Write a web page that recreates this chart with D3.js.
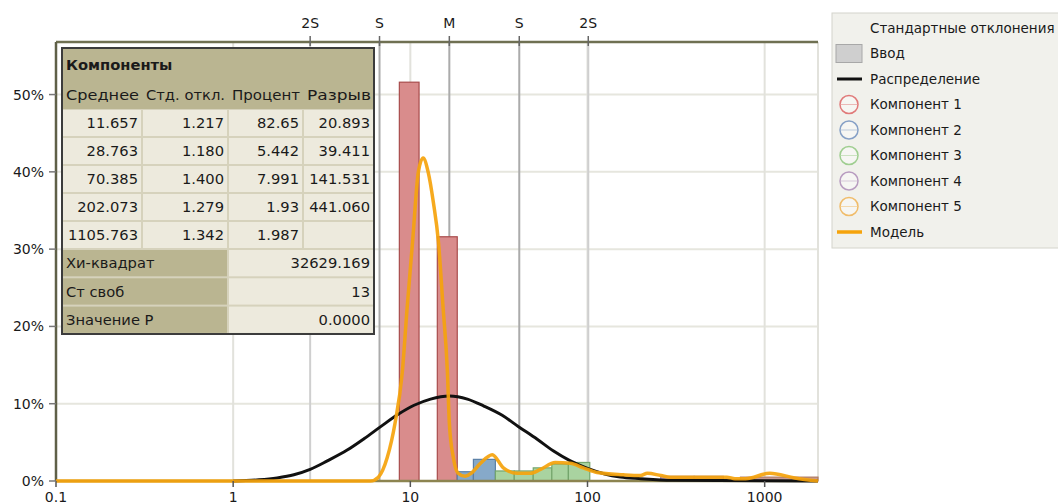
<!DOCTYPE html>
<html>
<head>
<meta charset="utf-8">
<script src="https://cdn.jsdelivr.net/npm/d3@7"></script>
<style>
  body { margin: 0; background: #fff; }
  text { font-family: "DejaVu Sans", sans-serif; fill: #1a1a1a; }
</style>
</head>
<body>
<div id="chart"></div>
<script>
var svgWidth = 1058;
var svgHeight = 504;

// histogram bins (size classes) and their share, by component
var binLo   = [8.67, 14.2, 18.4, 22.7, 30.2, 38.6, 49.4, 62.9, 78, 259, 400, 730];
var binHi   = [11.2, 18.4, 22.7, 30.2, 38.6, 49.4, 62.9, 78, 103, 400, 584, 2000];
var binPct  = [51.6, 31.6, 1.2, 2.8, 1.3, 1.3, 1.7, 2.2, 2.4, 0.6, 0.6, 0.5];
var binComp = [0, 0, 1, 1, 2, 2, 2, 2, 2, 3, 3, 4];

// overall lognormal distribution (black line)
var distX = [1, 1.4, 1.77, 2.2, 2.72, 3.4, 4.4, 5.5, 6.77, 8.5, 10.5, 13, 16.6, 21, 26, 33, 41, 52, 64, 80, 101, 125, 153, 200, 300, 2000];
var distY = [0, 0.15, 0.4, 0.8, 1.5, 2.6, 4.0, 5.5, 7.0, 8.6, 9.8, 10.6, 11.0, 10.6, 9.7, 8.5, 7.0, 5.4, 3.9, 2.6, 1.6, 0.9, 0.5, 0.3, 0.1, 0];

// fitted model (orange line)
var modelX = [0.1, 5.0, 5.95, 6.6, 7.4, 8.2, 9.0, 9.6, 10.3, 11.1, 11.8, 12.6, 13.5, 14.4, 15.3, 16.2, 16.6, 17.5, 18.6, 20.4, 22, 24.9, 29.0, 33.5, 40.1, 47.5, 54.3, 65.7, 80, 94.7, 113, 159, 199, 218, 260, 294, 434, 612, 680, 780, 1070, 1480, 2000];
var modelY = [0, 0, 0, 0.5, 3, 7.5, 14, 22.5, 31, 40, 41.8, 40, 36, 31, 22.5, 14, 7.5, 3, 1, 0.6, 1.0, 2.3, 3.4, 1.7, 1.0, 1.0, 1.5, 2.4, 2.3, 1.7, 1.1, 0.8, 0.7, 1.0, 0.7, 0.5, 0.5, 0.5, 0.3, 0.3, 1.0, 0.4, 0];

// mean / standard deviation markers on top axis
var statLabels = ["2S", "S", "M", "S", "2S"];
var statValues = [2.72, 6.7, 16.6, 41.2, 101];

var xTicks = [0.1, 1, 10, 100, 1000];
var yTicks = [0, 10, 20, 30, 40, 50];

// table of components
var tableHead = ["Среднее", "Стд. откл.", "Процент", "Разрыв"];
var compMean = ["11.657", "28.763", "70.385", "202.073", "1105.763"];
var compSd   = ["1.217", "1.180", "1.400", "1.279", "1.342"];
var compPct  = ["82.65", "5.442", "7.991", "1.93", "1.987"];
var compGap  = ["20.893", "39.411", "141.531", "441.060", ""];
var statNames = ["Хи-квадрат", "Ст своб", "Значение P"];
var statVals  = ["32629.169", "13", "0.0000"];

var legendNames = ["Компонент 1", "Компонент 2", "Компонент 3", "Компонент 4", "Компонент 5"];
var compStroke = ["#a84c4c", "#5a7fa6", "#74a56c", "#9a7aa0", "#b07a60"];
var compFill   = ["#d98c8c", "#86a9c9", "#a9d3a0", "#bfa3c6", "#c79a94"];
var legendRing = ["#e07a7a", "#86a0c6", "#9fce90", "#b89cc0", "#f0bc6a"];

var svg = d3.select("#chart").append("svg")
  .attr("width", svgWidth)
  .attr("height", svgHeight);

var x = d3.scaleLog().domain([0.1, 2000]).range([56, 818]);
var y = d3.scaleLinear().domain([0, 56.8]).range([481, 42]);

var plot = svg.append("g");

// grid lines
plot.selectAll(".hgrid")
  .data(yTicks.slice(1))
  .enter().append("line")
  .attr("x1", x(0.1)).attr("x2", x(2000))
  .attr("y1", d => y(d)).attr("y2", d => y(d))
  .attr("stroke", "#e6e6de").attr("stroke-width", 2);

plot.selectAll(".vgrid")
  .data(xTicks.slice(1).concat([2000]))
  .enter().append("line")
  .attr("x1", d => x(d)).attr("x2", d => x(d))
  .attr("y1", y(56.8)).attr("y2", y(0))
  .attr("stroke", "#e2e2dc").attr("stroke-width", 2);

// mean / sd lines
plot.selectAll(".stat")
  .data(statValues)
  .enter().append("line")
  .attr("x1", d => x(d)).attr("x2", d => x(d))
  .attr("y1", y(56.8)).attr("y2", y(0))
  .attr("stroke", (d, i) => statLabels[i] === "2S" ? "#cfcfcf" : "#ababab")
  .attr("stroke-width", 2);

// histogram bars
plot.selectAll(".bar")
  .data(binLo)
  .enter().append("rect")
  .attr("x", (d, i) => x(binLo[i]))
  .attr("width", (d, i) => x(binHi[i]) - x(binLo[i]))
  .attr("y", (d, i) => y(binPct[i]))
  .attr("height", (d, i) => y(0) - y(binPct[i]))
  .attr("fill", (d, i) => compFill[binComp[i]])
  .attr("stroke", (d, i) => compStroke[binComp[i]])
  .attr("stroke-width", 1.2);

// axes lines
svg.append("line")
  .attr("x1", x(0.1)).attr("x2", x(2000))
  .attr("y1", y(0)).attr("y2", y(0))
  .attr("stroke", "#8c8450").attr("stroke-width", 2.5);
svg.append("line")
  .attr("x1", x(0.1)).attr("x2", x(2000))
  .attr("y1", y(56.8)).attr("y2", y(56.8))
  .attr("stroke", "#6f7052").attr("stroke-width", 2.5);
svg.append("line")
  .attr("x1", x(0.1)).attr("x2", x(0.1))
  .attr("y1", y(56.8)).attr("y2", y(0))
  .attr("stroke", "#5f6048").attr("stroke-width", 2.5);

// distribution line
var line = d3.line()
  .x(d => x(d[0]))
  .y(d => y(d[1]))
  .curve(d3.curveMonotoneX);

svg.append("path")
  .datum(distX.map((d, i) => [d, distY[i]]))
  .attr("d", line)
  .attr("fill", "none")
  .attr("stroke", "#111")
  .attr("stroke-width", 3);

// model line
svg.append("path")
  .datum(modelX.map((d, i) => [d, modelY[i]]))
  .attr("d", line)
  .attr("fill", "none")
  .attr("stroke", "#f5a30c")
  .attr("stroke-opacity", 0.92)
  .attr("stroke-width", 3.5)
  .attr("stroke-linejoin", "round");

// bottom axis
var bottomAxis = svg.append("g");
bottomAxis.selectAll("line")
  .data(xTicks)
  .enter().append("line")
  .attr("x1", d => x(d)).attr("x2", d => x(d))
  .attr("y1", y(0)).attr("y2", y(0) + 6)
  .attr("stroke", "#555").attr("stroke-width", 1.5);
bottomAxis.selectAll("text")
  .data(xTicks)
  .enter().append("text")
  .attr("x", d => x(d))
  .attr("y", 502)
  .attr("text-anchor", "middle")
  .style("font-size", "14px")
  .text(d => d3.format("")(d));

// left axis
var leftAxis = svg.append("g");
leftAxis.selectAll("line")
  .data(yTicks)
  .enter().append("line")
  .attr("x1", x(0.1) - 7).attr("x2", x(0.1))
  .attr("y1", d => y(d)).attr("y2", d => y(d))
  .attr("stroke", "#777").attr("stroke-width", 1.5);
leftAxis.selectAll("text")
  .data(yTicks)
  .enter().append("text")
  .attr("x", 44)
  .attr("y", d => y(d))
  .attr("dy", "0.36em")
  .attr("text-anchor", "end")
  .style("font-size", "14px")
  .text(d => d + "%");

// top axis: mean and sd markers
var topAxis = svg.append("g");
topAxis.selectAll("line")
  .data(statValues)
  .enter().append("line")
  .attr("x1", d => x(d)).attr("x2", d => x(d))
  .attr("y1", y(56.8) - 6).attr("y2", y(56.8) + 4)
  .attr("stroke", "#666").attr("stroke-width", 1.5);
topAxis.selectAll("text")
  .data(statValues)
  .enter().append("text")
  .attr("x", d => x(d))
  .attr("y", 28)
  .attr("text-anchor", "middle")
  .style("font-size", "14px")
  .text((d, i) => statLabels[i]);

// components table
var khaki = "#bab591";
var light = "#edeadd";
var fs = "14.7px";
var colX = [62, 142, 228, 303, 374];
var tbl = svg.append("g");

tbl.append("rect")
  .attr("x", 62).attr("y", 48).attr("width", 312).attr("height", 286)
  .attr("fill", "#d6d2bc");

tbl.append("rect")
  .attr("x", 62).attr("y", 48).attr("width", 312).attr("height", 61)
  .attr("fill", khaki);
tbl.append("text")
  .attr("x", 66).attr("y", 65).attr("dy", "0.36em")
  .style("font-size", fs).style("font-weight", "bold")
  .text("Компоненты");
tbl.selectAll(".head")
  .data(tableHead)
  .enter().append("text")
  .attr("x", (d, i) => colX[i] + 4)
  .attr("y", 95).attr("dy", "0.36em")
  .attr("textLength", (d, i) => colX[i + 1] - colX[i] - 7)
  .attr("lengthAdjust", "spacingAndGlyphs")
  .style("font-size", fs)
  .text(d => d);

var rowH = 28;
var cols = [compMean, compSd, compPct, compGap];
cols.forEach(function(col, c) {
  col.forEach(function(v, r) {
    tbl.append("rect")
      .attr("x", colX[c] + 1).attr("y", 109 + r * rowH + 1)
      .attr("width", colX[c + 1] - colX[c] - 2).attr("height", rowH - 2)
      .attr("fill", light);
    tbl.append("text")
      .attr("x", colX[c + 1] - 4)
      .attr("y", 109 + r * rowH + rowH / 2).attr("dy", "0.36em")
      .attr("text-anchor", "end")
      .style("font-size", fs)
      .text(v);
  });
});

statNames.forEach(function(name, r) {
  var y0 = 249 + r * 28.3;
  tbl.append("rect")
    .attr("x", 63).attr("y", y0 + 1).attr("width", colX[2] - 64).attr("height", 26.3)
    .attr("fill", khaki);
  tbl.append("rect")
    .attr("x", colX[2] + 1).attr("y", y0 + 1).attr("width", colX[4] - colX[2] - 2).attr("height", 26.3)
    .attr("fill", light);
  tbl.append("text")
    .attr("x", 66).attr("y", y0 + 14).attr("dy", "0.36em")
    .style("font-size", fs)
    .text(name);
  tbl.append("text")
    .attr("x", colX[4] - 4).attr("y", y0 + 14).attr("dy", "0.36em")
    .attr("text-anchor", "end")
    .style("font-size", fs)
    .text(statVals[r]);
});

tbl.append("rect")
  .attr("x", 62).attr("y", 48).attr("width", 312).attr("height", 286)
  .attr("fill", "none")
  .attr("stroke", "#3c3c3c").attr("stroke-width", 2);

// legend
var lg = svg.append("g");
lg.append("rect")
  .attr("x", 832).attr("y", 13).attr("width", 240).attr("height", 235)
  .attr("fill", "#f1f1ec").attr("stroke", "#d4d4cc");

var legendRows = ["Стандартные отклонения", "Ввод", "Распределение"]
  .concat(legendNames).concat(["Модель"]);
var ly = d => 28 + d * 25.5;

lg.selectAll("text")
  .data(legendRows)
  .enter().append("text")
  .attr("x", 870)
  .attr("y", (d, i) => ly(i))
  .attr("dy", "0.36em")
  .style("font-size", "13.5px")
  .text(d => d);

lg.append("rect")
  .attr("x", 836).attr("y", ly(1) - 9).attr("width", 26).attr("height", 18)
  .attr("fill", "#cfcfcf").attr("stroke", "#a8a8a8");
lg.append("line")
  .attr("x1", 837).attr("x2", 862).attr("y1", ly(2)).attr("y2", ly(2))
  .attr("stroke", "#111").attr("stroke-width", 3);
lg.selectAll(".ring")
  .data(legendNames)
  .enter().append("circle")
  .attr("cx", 849)
  .attr("cy", (d, i) => ly(i + 3))
  .attr("r", 9)
  .attr("fill", "#f6f6f3")
  .attr("stroke", (d, i) => legendRing[i])
  .attr("stroke-width", 1.5);
lg.selectAll(".ringline")
  .data(legendNames)
  .enter().append("line")
  .attr("x1", 841).attr("x2", 857)
  .attr("y1", (d, i) => ly(i + 3)).attr("y2", (d, i) => ly(i + 3))
  .attr("stroke", (d, i) => legendRing[i])
  .attr("stroke-opacity", 0.5);
lg.append("line")
  .attr("x1", 837).attr("x2", 862).attr("y1", ly(8)).attr("y2", ly(8))
  .attr("stroke", "#f5a30c").attr("stroke-width", 3.5);
</script>
</body>
</html>
